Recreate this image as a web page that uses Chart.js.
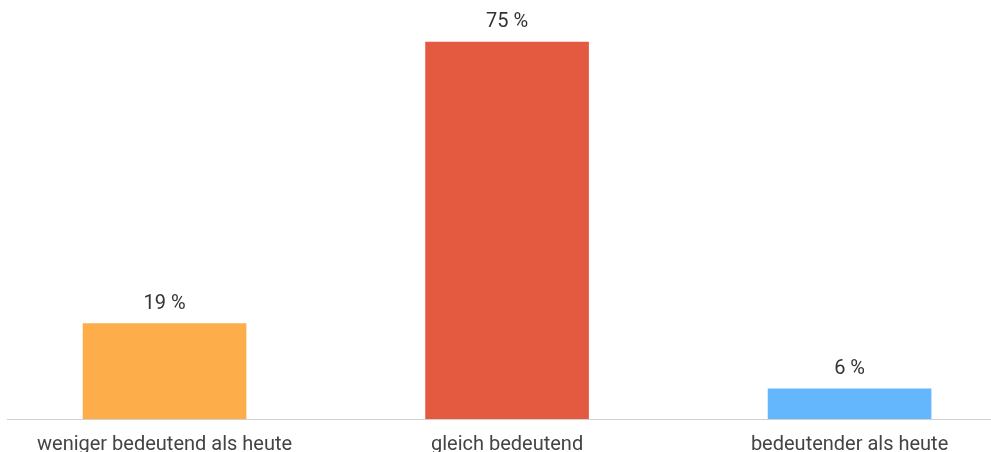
<!DOCTYPE html>
<html>
<head>
<meta charset="utf-8">
<script src="https://cdn.jsdelivr.net/npm/chart.js@4"></script>
<style>
  html, body { margin: 0; padding: 0; background: #fff; }
  #wrap { width: 991px; height: 452px; position: relative; }
</style>
</head>
<body>
<div id="wrap"><canvas id="chart"></canvas></div>
<script>
// Daten
const categories = ['weniger bedeutend als heute', 'gleich bedeutend', 'bedeutender als heute'];
const values = [19, 75, 6];
const barColors = ['#fdae4b', '#e35a40', '#64b7fc'];

// Balken-Beschriftung oberhalb
const valueLabels = {
  id: 'valueLabels',
  afterDatasetsDraw(chart) {
    const ctx = chart.ctx;
    const meta = chart.getDatasetMeta(0);
    ctx.save();
    ctx.font = '20px Roboto';
    ctx.fillStyle = '#333';
    ctx.textAlign = 'center';
    ctx.textBaseline = 'middle';
    meta.data.forEach((bar, i) => {
      ctx.fillText(values[i] + ' %', bar.x, bar.y - 20);
    });
    ctx.restore();
  }
};

new Chart(document.getElementById('chart'), {
  type: 'bar',
  data: {
    datasets: [{
      data: values.map((v, i) => ({ x: i, y: v })),
      backgroundColor: barColors,
      barThickness: 163,
      borderWidth: 0
    }]
  },
  options: {
    responsive: true,
    maintainAspectRatio: false,
    animation: false,
    layout: { padding: { top: 17, left: 7, right: 1, bottom: 0 } },
    plugins: {
      legend: { display: false },
      tooltip: { enabled: false }
    },
    scales: {
      x: {
        type: 'linear',
        offset: false,
        min: -0.46,
        max: 2.41,
        grid: { display: false },
        border: { display: true, color: '#d0d0d0', width: 1 },
        afterFit: (scale) => { scale.height = 33; },
        ticks: {
          stepSize: 1,
          includeBounds: false,
          autoSkip: false,
          maxRotation: 0,
          padding: 6,
          color: '#444',
          font: { family: 'Roboto', size: 20 },
          callback: (v) => categories[v] ?? ''
        }
      },
      y: {
        display: false,
        min: 0,
        max: 80
      }
    }
  },
  plugins: [valueLabels]
});
</script>
</body>
</html>
